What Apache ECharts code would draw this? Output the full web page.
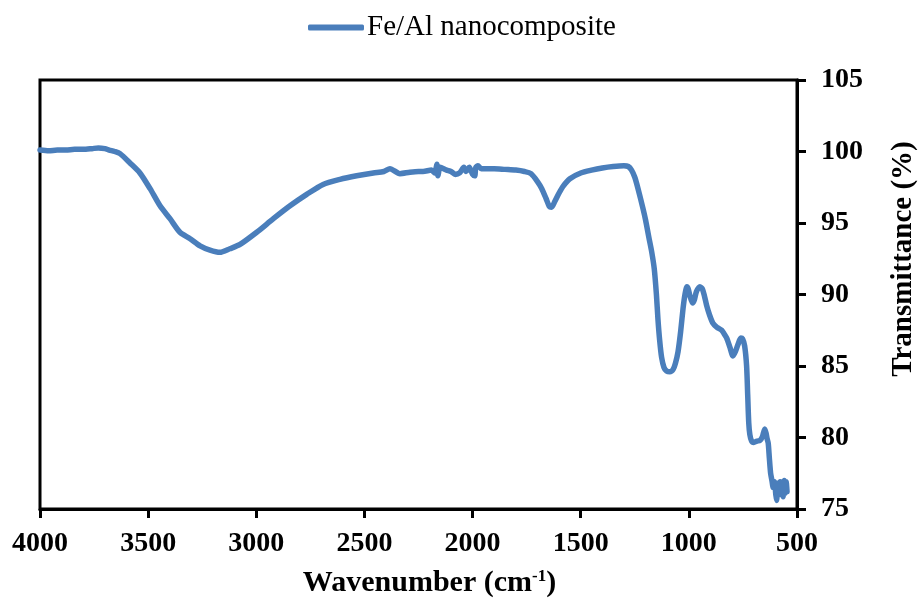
<!DOCTYPE html>
<html>
<head>
<meta charset="utf-8">
<title>FTIR spectrum – Fe/Al nanocomposite</title>
<script src="https://cdn.jsdelivr.net/npm/echarts@6/dist/echarts.min.js"></script>
<style>
  html, body { margin: 0; padding: 0; background: #fff; }
  #chart { width: 918px; height: 603px; }
</style>
</head>
<body>
<div id="chart"></div>
<script>
// FTIR spectrum of the Fe/Al nanocomposite (wavenumber in cm-1, transmittance in %)
const seriesName = 'Fe/Al nanocomposite';

const wavenumber = [
  4000, 3960, 3920, 3880, 3840, 3800, 3760, 3730, 3700, 3680,
  3655, 3630, 3584, 3538, 3491, 3445, 3399, 3353, 3306, 3260,
  3214, 3168, 3122, 3075, 2998, 2921, 2844, 2767, 2691, 2613,
  2536, 2459, 2410, 2382, 2336, 2290, 2250, 2229, 2190, 2175,
  2165, 2160, 2150, 2120, 2100, 2080, 2060, 2040, 2030, 2015,
  2000, 1990, 1985, 1975, 1960, 1900, 1850, 1800, 1760, 1730,
  1700, 1680, 1660, 1645, 1635, 1620, 1600, 1580, 1550, 1500,
  1450, 1400, 1350, 1300, 1280, 1265, 1250, 1235, 1212, 1200,
  1185, 1172, 1160, 1150, 1143, 1135, 1126, 1115, 1103, 1088,
  1073, 1062, 1050, 1038, 1027, 1018, 1009, 1003, 995, 983,
  975, 965, 949, 938, 928, 918, 905, 889, 870, 848,
  835, 825, 810, 796, 785, 773, 760, 752, 742, 733,
  728, 723, 718, 710, 700, 685, 671, 660, 649, 643,
  638, 633, 628, 622, 616, 610, 604, 598, 594, 589,
  584, 578, 573, 568, 564, 559, 555, 550, 546
];

const transmittance = [
  100.1, 100.05, 100.1, 100.1, 100.15, 100.15, 100.2, 100.25, 100.2, 100.1,
  100.0, 99.85, 99.2, 98.5, 97.4, 96.2, 95.3, 94.35, 93.9, 93.4,
  93.1, 92.95, 93.2, 93.5, 94.35, 95.3, 96.2, 97.0, 97.7, 98.05,
  98.3, 98.5, 98.6, 98.8, 98.45, 98.55, 98.6, 98.6, 98.7, 98.5,
  99.1, 98.3, 98.9, 98.7, 98.6, 98.4, 98.5, 98.9, 98.6, 98.9,
  98.4, 98.3, 98.9, 99.0, 98.8, 98.8, 98.75, 98.7, 98.6, 98.45,
  97.9, 97.4, 96.7, 96.15, 96.1, 96.5, 97.1, 97.6, 98.1, 98.5,
  98.7, 98.85, 98.95, 99.0, 98.95, 98.7, 98.2, 97.4, 96.0, 95.2,
  94.0, 93.0, 91.8, 90.0, 88.3, 86.8, 85.6, 84.9, 84.65, 84.6,
  84.75, 85.2, 86.0, 87.4, 89.0, 90.0, 90.55, 90.4, 89.9, 89.4,
  89.6, 90.2, 90.55, 90.4, 89.9, 89.25, 88.6, 88.0, 87.7, 87.5,
  87.2, 86.95, 86.3, 85.7, 86.0, 86.5, 86.95, 86.9, 86.4, 85.0,
  83.0, 81.0, 80.2, 79.75, 79.65, 79.75, 79.8, 80.05, 80.6, 80.3,
  79.9, 79.6, 78.6, 77.5, 77.0, 76.5, 76.9, 76.0, 75.6, 76.8,
  76.1, 76.9, 76.0, 76.9, 75.85, 77.0, 76.1, 76.9, 76.2
];

// x tick labels, y tick labels
const xTicks = [4000, 3500, 3000, 2500, 2000, 1500, 1000, 500];
const yTicks = [75, 80, 85, 90, 95, 100, 105];

const points = wavenumber.map((w, i) => [w, transmittance[i]]);

const serif = '"Liberation Serif", "Times New Roman", serif';
const lineColor = '#4a7ebb';

const chart = echarts.init(document.getElementById('chart'), null, { renderer: 'canvas' });

chart.setOption({
  animation: false,
  backgroundColor: '#ffffff',
  grid: {
    left: 40, right: 121, top: 80, bottom: 91,
    show: true, borderColor: '#000', borderWidth: 3,
    backgroundColor: 'transparent'
  },
  legend: {
    data: [seriesName],
    left: 303, top: 8,
    icon: 'roundRect',
    itemWidth: 56, itemHeight: 6,
    itemGap: 4,
    textStyle: { fontFamily: serif, fontSize: 29, color: '#000', padding: [0, 0, 0, -2] }
  },
  xAxis: {
    type: 'value',
    inverse: true,
    min: xTicks[xTicks.length - 1],
    max: xTicks[0],
    interval: 500,
    name: 'Wavenumber (cm{sup|-1})',
    nameLocation: 'middle',
    nameGap: 59,
    nameTextStyle: {
      fontFamily: serif, fontSize: 30, fontWeight: 'bold', color: '#000',
      padding: [0, 0, 0, 22],
      rich: {
        sup: { fontFamily: serif, fontSize: 17, fontWeight: 'bold', color: '#000', verticalAlign: 'top', padding: [0, 0, 12, 0] }
      }
    },
    axisLine: { show: true, lineStyle: { color: '#000', width: 3 } },
    axisTick: { show: true, inside: false, length: 9, lineStyle: { color: '#000', width: 3 } },
    axisLabel: {
      fontFamily: serif, fontSize: 28, fontWeight: 'bold', color: '#000', margin: 21,
      showMinLabel: true, showMaxLabel: true,
      formatter: v => String(v)
    },
    splitLine: { show: false }
  },
  yAxis: {
    type: 'value',
    position: 'right',
    min: yTicks[0],
    max: yTicks[yTicks.length - 1],
    interval: 5,
    axisLine: { show: true, lineStyle: { color: '#000', width: 3 } },
    axisTick: { show: true, inside: false, length: 9, lineStyle: { color: '#000', width: 3 } },
    axisLabel: { fontFamily: serif, fontSize: 28, fontWeight: 'bold', color: '#000', margin: 24, formatter: v => String(v) },
    splitLine: { show: false }
  },
  graphic: [{
    type: 'text',
    x: 904, y: 259,
    rotation: Math.PI / 2,
    style: {
      text: 'Transmittance (%)',
      font: 'bold 29px ' + serif,
      fill: '#000',
      textAlign: 'center',
      textVerticalAlign: 'middle'
    }
  }],
  series: [{
    name: seriesName,
    type: 'line',
    data: points,
    showSymbol: false,
    symbol: 'none',
    smooth: 0.25,
    lineStyle: { color: lineColor, width: 5.5, cap: 'round', join: 'round' },
    itemStyle: { color: lineColor },
    z: 3
  }]
});
</script>
</body>
</html>
